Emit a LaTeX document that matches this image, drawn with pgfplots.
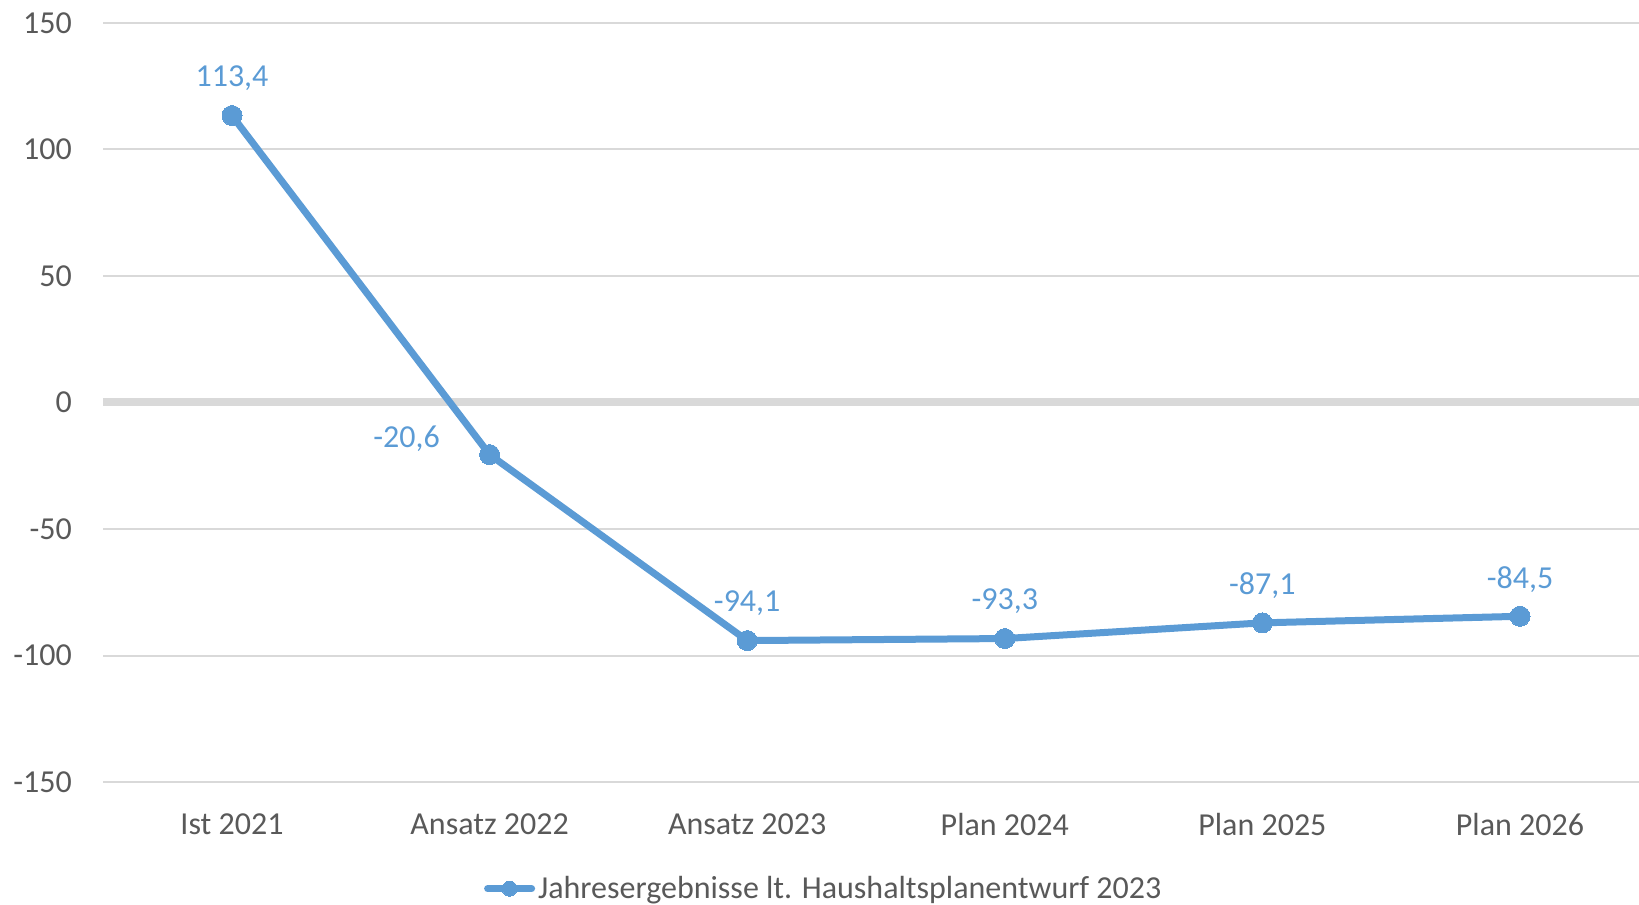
\documentclass[border=0pt]{standalone}
\usepackage{pgfplots}
\pgfplotsset{compat=1.18}
\usepackage{fontspec}
\setmainfont{Carlito}
\definecolor{serie}{HTML}{5B9BD5}
\definecolor{gitter}{HTML}{D9D9D9}
\definecolor{schrift}{HTML}{595959}
\begin{document}
\begin{tikzpicture}
\begin{axis}[
    at={(0,0)}, anchor=south west,
    scale only axis,
    width=767.9pt, height=379.5pt,
    xmin=-0.5, xmax=5.462,
    ymin=-150, ymax=150,
    axis line style={draw=none},
    xtick={0,...,5},
    xticklabels={Ist 2021, Ansatz 2022, Ansatz 2023, Plan 2024, Plan 2025, Plan 2026},
    ytick={-150,-100,-50,50,100,150},
    extra y ticks={0},
    extra y tick style={grid style={gitter, line width=4pt}},
    ymajorgrids,
    grid style={gitter, line width=1pt},
    major tick length=0pt,
    tick style={draw=none},
    /pgf/number format/assume math mode=true,
    tick label style={font=\fontsize{16pt}{19pt}\selectfont, text=schrift, inner sep=0pt},
    xticklabel style={anchor=north, yshift=-15.5pt},
    yticklabel style={anchor=east, xshift=-15.5pt},
    legend style={at={(0.4695,-0.1405)}, anchor=center, draw=none, fill=none,
        font=\fontsize{16pt}{19pt}\selectfont, text=schrift,
        nodes={inner sep=1.5pt}},
    legend image code/.code={\draw[#1, mark repeat=2, mark phase=2, line cap=round, mark size=3.75pt]
        plot coordinates {(0pt,0pt)(11pt,0pt)(22pt,0pt)};},
    nodes near coords,
    point meta=explicit symbolic,
    every node near coord/.append style={font=\fontsize{16pt}{19pt}\selectfont, text=serie,
        anchor=center, inner sep=0pt, yshift=18.5pt},
]
\addplot[serie, line width=3.5pt, mark=*, mark size=5pt, mark options={draw=serie, fill=serie, line width=0pt}]
    coordinates {
    (0,113.4) [113,4]
    (1,-20.6) []
    (2,-94.1) [-94,1]
    (3,-93.3) [-93,3]
    (4,-87.1) [-87,1]
    (5,-84.5) [-84,5]
    };
\addlegendentry{Jahresergebnisse lt. Haushaltsplanentwurf 2023}
\addplot[draw=none, mark=none, forget plot,
    every node near coord/.append style={xshift=-41.5pt, yshift=-10.7pt}]
    coordinates {(1,-20.6) [-20,6]};
\end{axis}
\pgfresetboundingbox
\path[use as bounding box] (-51.6pt,-61.5pt) rectangle (767.9pt,391pt);
\end{tikzpicture}
\end{document}
